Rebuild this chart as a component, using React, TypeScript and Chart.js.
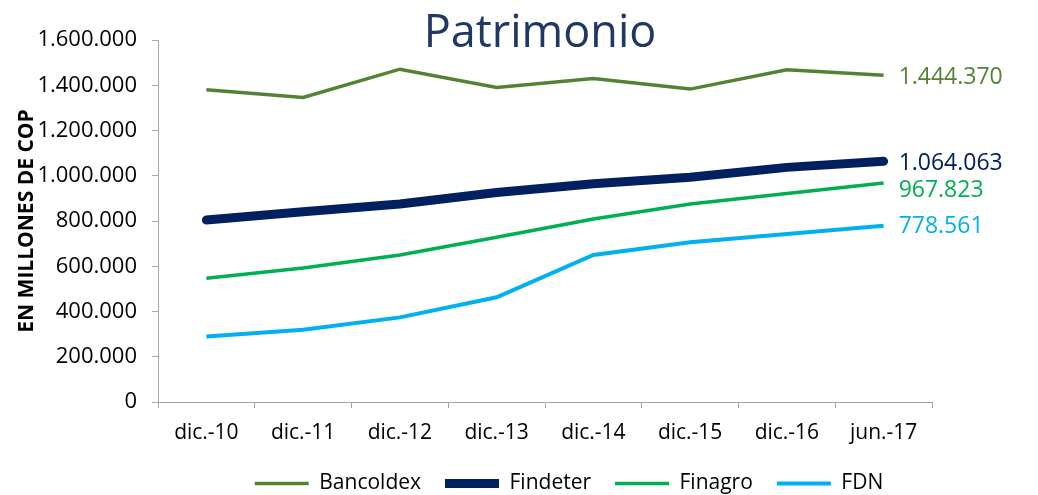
import React, { useEffect, useRef } from "react";
import { Chart, registerables } from "chart.js";

Chart.register(...registerables);

const categories = ["dic.-10", "dic.-11", "dic.-12", "dic.-13", "dic.-14", "dic.-15", "dic.-16", "jun.-17"];
const bancoldex = [1380000, 1346000, 1471000, 1390000, 1430000, 1383000, 1468000, 1444370];
const findeter = [804000, 841000, 875000, 926000, 965000, 993000, 1037000, 1064063];
const finagro = [547000, 592000, 650000, 728000, 809000, 875000, 922000, 967823];
const fdn = [289000, 319000, 374000, 463000, 650000, 706000, 743000, 778561];
const yTicks = [0, 200000, 400000, 600000, 800000, 1000000, 1200000, 1400000, 1600000];

const FONT = "'Open Sans', 'Noto Sans', sans-serif";

function fmt(v: number): string {
  const s = Math.round(v).toString();
  return s.replace(/\B(?=(\d{3})+(?!\d))/g, ".");
}

const overlayPlugin = {
  id: "overlay",
  afterLayout(chart: any) {
    const lg = chart.legend;
    if (lg) {
      lg.left = 100;
      lg.right = 1038;
      lg.top += 9;
      lg.bottom += 9;
    }
    const xs = chart.scales.x;
    if (xs) xs.bottom = chart.height;
  },
  afterDatasetsDraw(chart: any) {
    const ctx = chart.ctx;
    ctx.save();
    // title
    ctx.font = `45px ${FONT}`;
    ctx.fillStyle = "#1F3864";
    ctx.textAlign = "center";
    ctx.textBaseline = "alphabetic";
    ctx.fillText("Patrimonio", 540, 47);
    // last-value labels
    ctx.font = `23px ${FONT}`;
    ctx.textAlign = "left";
    ctx.textBaseline = "middle";
    chart.data.datasets.forEach((ds: any, i: number) => {
      const meta = chart.getDatasetMeta(i);
      const pt = meta.data[meta.data.length - 1];
      if (!pt) return;
      const v = ds.data[ds.data.length - 1];
      ctx.fillStyle = ds.labelColor || ds.borderColor;
      ctx.fillText(fmt(v), pt.x + 15, pt.y + (ds.labelDy || 0));
    });
    ctx.restore();
  },
};

export default function App() {
  const ref = useRef<HTMLCanvasElement | null>(null);
  useEffect(() => {
    if (!ref.current) return;
    const chart = new Chart(ref.current, {
      type: "line",
      data: {
        labels: categories,
        datasets: [
          {
            label: "Bancoldex",
            data: bancoldex,
            borderColor: "#548235",
            backgroundColor: "#548235",
            borderWidth: 3.5,
            pointRadius: 0,
            tension: 0,
            labelDy: 2,
          } as any,
          {
            label: "Findeter",
            data: findeter,
            borderColor: "#002060",
            backgroundColor: "#002060",
            borderWidth: 9,
            borderCapStyle: "round",
            borderJoinStyle: "round",
            pointRadius: 0,
            tension: 0,
            labelDy: 2,
          } as any,
          {
            label: "Finagro",
            data: finagro,
            borderColor: "#00B050",
            backgroundColor: "#00B050",
            borderWidth: 3.5,
            pointRadius: 0,
            tension: 0,
            labelDy: 7,
          } as any,
          {
            label: "FDN",
            data: fdn,
            borderColor: "#00B0F0",
            backgroundColor: "#00B0F0",
            borderWidth: 4,
            pointRadius: 0,
            tension: 0,
            labelDy: 1,
          } as any,
        ],
      },
      options: {
        animation: false,
        responsive: false,
        maintainAspectRatio: false,
        layout: { padding: { left: 0, right: 106, top: 40, bottom: 0 } },
        plugins: {
          title: { display: false },
          tooltip: { enabled: false },
          legend: {
            display: true,
            position: "bottom",
            labels: {
              usePointStyle: true,
              pointStyle: "line",
              pointStyleWidth: 54,
              padding: 24,
              color: "#000000",
              font: { family: FONT, size: 21 },
            },
          },
        },
        scales: {
          x: {
            offset: true,
            grid: {
              offset: true,
              drawOnChartArea: false,
              drawTicks: true,
              tickLength: 6,
              color: "#A6A6A6",
            },
            border: { display: true, color: "#A6A6A6", width: 1 },
            ticks: {
              color: "#000000",
              padding: 12,
              font: { family: FONT, size: 21 },
              maxRotation: 0,
              autoSkip: false,
            },
            afterFit: (s: any) => {
              s.height = 38;
            },
          },
          y: {
            min: 0,
            max: 1600000,
            afterBuildTicks: (s: any) => {
              s.ticks = yTicks.map((v) => ({ value: v }));
            },
            grid: {
              drawOnChartArea: false,
              drawTicks: true,
              tickLength: 6,
              color: "#A6A6A6",
            },
            border: { display: true, color: "#A6A6A6", width: 1 },
            ticks: {
              color: "#000000",
              padding: 15,
              font: { family: FONT, size: 22 },
              callback: (v: any) => fmt(Number(v)),
            },
            title: {
              display: true,
              text: "EN MILLONES DE COP",
              color: "#000000",
              font: { family: FONT, size: 21, weight: "bold" },
              padding: { top: 14, bottom: 0 },
            },
            afterFit: (s: any) => {
              s.width = 158;
            },
          },
        },
      },
      plugins: [overlayPlugin],
    });
    return () => chart.destroy();
  }, []);
  return (
    <div style={{ position: "absolute", left: 0, top: 0, width: 1038, height: 495, background: "#ffffff" }}>
      <canvas ref={ref} width={1038} height={495} style={{ width: 1038, height: 495 }} />
    </div>
  );
}
